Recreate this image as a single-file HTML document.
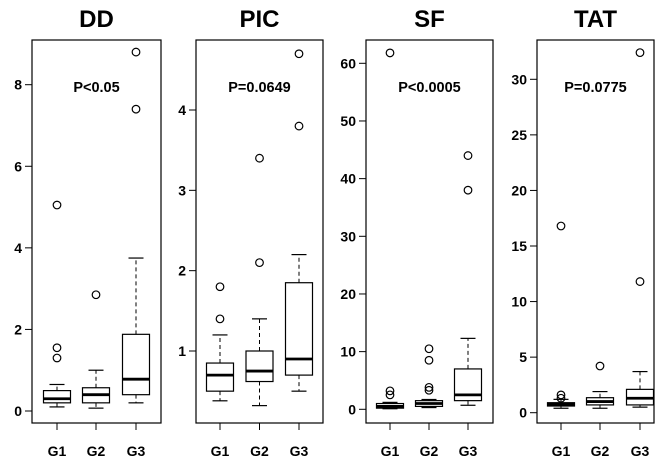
<!DOCTYPE html>
<html><head><meta charset="utf-8"><style>
html,body{margin:0;padding:0;background:#fff;}
svg{display:block;font-family:"Liberation Sans",sans-serif;}
</style></head><body>
<svg id="chart" width="669" height="463" viewBox="0 0 669 463"></svg>
<script>
const groups = ["G1","G2","G3"];
const titles = ["DD","PIC","SF","TAT"];
const pLabels = ["P<0.05","P=0.0649","P<0.0005","P=0.0775"];
const ddTicks = [0,2,4,6,8];
const picTicks = [1,2,3,4];
const sfTicks = [0,10,20,30,40,50,60];
const tatTicks = [0,5,10,15,20,25,30];
// [low, q1, median, q3, high]
const ddStats = [[0.1,0.2,0.3,0.5,0.65],[0.07,0.2,0.4,0.57,1.0],[0.2,0.4,0.78,1.88,3.75]];
const ddOut = [[1.3,1.55,5.05],[2.85],[7.4,8.8]];
const picStats = [[0.38,0.5,0.7,0.85,1.2],[0.32,0.62,0.75,1.0,1.4],[0.5,0.7,0.9,1.85,2.2]];
const picOut = [[1.4,1.8],[2.1,3.4],[3.8,4.7]];
const sfStats = [[0.1,0.2,0.5,1.0,1.2],[0.3,0.5,1.0,1.5,1.7],[0.7,1.5,2.5,7.0,12.3]];
const sfOut = [[2.5,3.2,61.8],[3.3,3.8,8.5,10.5],[38,44]];
const tatStats = [[0.4,0.6,0.75,0.9,1.2],[0.4,0.7,1.0,1.35,1.9],[0.5,0.7,1.3,2.1,3.7]];
const tatOut = [[1.3,1.6,16.8],[4.2],[11.8,32.4]];

const panels = [
 {x0:32,x1:161,v0:0,y0:411,v1:8,y1:84.7,ticks:ddTicks,stats:ddStats,out:ddOut,gx:[57,96,136]},
 {x0:196,x1:323,v0:1,y0:351,v1:4,y1:110,ticks:picTicks,stats:picStats,out:picOut,gx:[220,259.5,299]},
 {x0:366,x1:493,v0:0,y0:409.3,v1:60,y1:63.3,ticks:sfTicks,stats:sfStats,out:sfOut,gx:[390,429,468]},
 {x0:537,x1:654,v0:0,y0:412.7,v1:30,y1:79.3,ticks:tatTicks,stats:tatStats,out:tatOut,gx:[561,600,640]}
];
const NS="http://www.w3.org/2000/svg";
const svg=document.getElementById('chart');
function mk(tag,attrs,parent){const e=document.createElementNS(NS,tag);for(const k in attrs)e.setAttribute(k,attrs[k]);(parent||svg).appendChild(e);return e;}
panels.forEach((p,i)=>{
  const g=mk('g',{});
  
  
  const y=v=>p.y0+(v-p.v0)*(p.y1-p.y0)/(p.v1-p.v0);
  const t=mk('text',{x:(p.x0+p.x1)/2,y:27,'text-anchor':'middle','font-size':24,'font-weight':'bold'},g);
  t.textContent=titles[i];
  
  
  const fr=mk('rect',{x:p.x0,y:40,width:p.x1-p.x0,height:383,fill:'none',stroke:'#000','stroke-width':1.2},g);
  
  
  const pt=mk('text',{x:(p.x0+p.x1)/2,y:92,'text-anchor':'middle','font-size':14.5,'font-weight':'bold'},g);
  pt.textContent=pLabels[i];
  
  
  p.ticks.forEach(v=>{
    mk('line',{x1:p.x0-7,x2:p.x0,y1:y(v),y2:y(v),stroke:'#000'},g);
    const tl=mk('text',{x:p.x0-10,y:y(v)+5,'text-anchor':'end','font-size':14,'font-weight':'bold'},g);
    tl.textContent=v;
    
    
  });
  groups.forEach((gn,j)=>{
    const cx=p.gx[j],s=p.stats[j],hw=13.5,cw=7.5;
    mk('line',{x1:cx,x2:cx,y1:423,y2:430,stroke:'#000'},g);
    const xl=mk('text',{x:cx,y:456,'text-anchor':'middle','font-size':14,'font-weight':'bold'},g);
    xl.textContent=gn;
    
    
    const bg=mk('g',{},g);
    
    
    mk('line',{x1:cx,x2:cx,y1:y(s[3]),y2:y(s[4]),stroke:'#000','stroke-dasharray':'4,3'},bg);
    mk('line',{x1:cx,x2:cx,y1:y(s[1]),y2:y(s[0]),stroke:'#000','stroke-dasharray':'4,3'},bg);
    mk('line',{x1:cx-cw,x2:cx+cw,y1:y(s[4]),y2:y(s[4]),stroke:'#000','stroke-width':1.2},bg);
    mk('line',{x1:cx-cw,x2:cx+cw,y1:y(s[0]),y2:y(s[0]),stroke:'#000','stroke-width':1.2},bg);
    mk('rect',{x:cx-hw,y:y(s[3]),width:2*hw,height:Math.max(1,y(s[1])-y(s[3])),fill:'#fff',stroke:'#000','stroke-width':1.2},bg);
    mk('line',{x1:cx-hw,x2:cx+hw,y1:y(s[2]),y2:y(s[2]),stroke:'#000','stroke-width':2.8},bg);
    p.out[j].forEach(v=>{
      const c=mk('circle',{cx:cx,cy:y(v),r:3.8,fill:'none',stroke:'#000','stroke-width':1.2},bg);
      
      
    });
  });
});
</script>
</body></html>
